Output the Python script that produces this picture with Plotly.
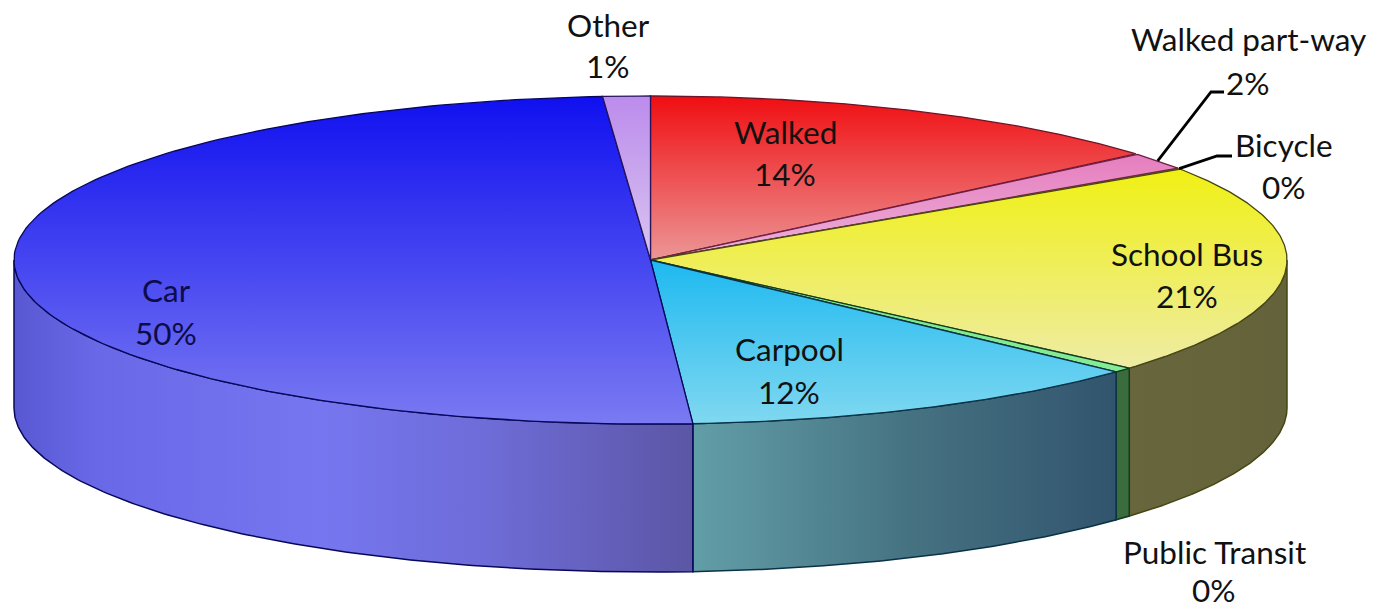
import numpy as np
import plotly.graph_objects as go

# --- data (percent of trips), clockwise from the top of the pie
categories = ["Walked", "Walked part-way", "Bicycle", "School Bus", "Public Transit", "Carpool", "Car", "Other"]
values = [13.8, 1.75, 0.1, 20.8, 0.49, 12.0, 49.86, 1.2]
pct_labels = ["14%", "2%", "0%", "21%", "0%", "12%", "50%", "1%"]

# --- styles
top_colors = [
    ["rgb(240,14,18)", "rgb(236,150,150)"],
    ["rgb(230,125,190)", "rgb(235,178,218)"],
    ["rgb(230,120,120)", "rgb(230,120,120)"],
    ["rgb(240,240,20)", "rgb(238,236,165)"],
    ["rgb(115,232,135)", "rgb(135,235,150)"],
    ["rgb(30,185,240)", "rgb(128,216,240)"],
    ["rgb(16,16,240)", "rgb(122,122,242)"],
    ["rgb(188,140,236)", "rgb(216,196,240)"],
]
wall_colors = [
    None, None, None,
    [[0, "rgb(104,102,60)"], [1, "rgb(100,98,58)"]],
    [[0, "rgb(58,108,62)"], [1, "rgb(58,108,62)"]],
    [[0, "rgb(98,158,168)"], [0.5, "rgb(70,115,130)"], [1, "rgb(50,84,110)"]],
    [[0, "rgb(88,88,210)"], [0.12, "rgb(105,105,232)"], [0.45, "rgb(118,118,240)"], [0.7, "rgb(110,108,215)"], [1, "rgb(92,86,165)"]],
    None,
]
edge_colors = ["rgb(110,20,40)", "rgb(110,30,70)", "rgb(110,60,30)", "rgb(70,70,20)",
               "rgb(15,60,30)", "rgb(10,50,70)", "rgb(8,8,90)", "rgb(40,20,90)"]

# label anchor pairs: (x, y of name), (x, y of percent)
name_pos = [(785, 132), (1248, 39), (1284, 145), (1187, 254), (1214, 552), (789, 349), (166, 290), (608, 25)]
pct_pos = [(785, 174), (1248, 83), (1284, 187), (1187, 296), (1214, 590), (789, 392), (166, 333), (608, 66)]
leader_elbows = {1: [(1211, 92), (1224, 92)], 2: [(1217, 156), (1232, 156)]}

CX, CY, A, B, DEPTH = 650.5, 260, 636.5, 164, 148
FONT = "Lato"
FONT_SIZE = 31.5


def ex(t):
    return CX + A * np.sin(t)


def ey(t):
    return CY - B * np.cos(t)


fractions = np.array(values) / np.sum(values)
edges = np.concatenate([[0], np.cumsum(fractions)]) * 2 * np.pi

fig = go.Figure()

# side wall: visible on the front half of the disc only
for i, scale in enumerate(wall_colors):
    t0, t1 = max(edges[i], np.pi / 2), min(edges[i + 1], 3 * np.pi / 2)
    if scale is None or t1 <= t0:
        continue
    t = np.linspace(t0, t1, 160)
    xs = np.concatenate([ex(t), ex(t[::-1]), [ex(t0)]])
    ys = np.concatenate([ey(t), ey(t[::-1]) + DEPTH, [ey(t0)]])
    fig.add_trace(go.Scatter(
        x=xs, y=ys, mode="lines", fill="toself", name=categories[i],
        line=dict(color=edge_colors[i], width=1.5),
        fillgradient=dict(type="horizontal", colorscale=scale, start=float(xs.min()), stop=float(xs.max())),
    ))

# top face
for i, cols in enumerate(top_colors):
    t = np.linspace(edges[i], edges[i + 1], 160)
    xs = np.concatenate([[CX], ex(t), [CX]])
    ys = np.concatenate([[CY], ey(t), [CY]])
    fig.add_trace(go.Scatter(
        x=xs, y=ys, mode="lines", fill="toself", name=categories[i],
        line=dict(color=edge_colors[i], width=1.3),
        fillgradient=dict(type="vertical", colorscale=[[0, cols[0]], [1, cols[1]]],
                          start=float(ys.min()), stop=float(ys.max())),
    ))

# leader lines from the middle of the thin slices
for i, elbow in leader_elbows.items():
    mid = (edges[i] + edges[i + 1]) / 2
    fig.add_trace(go.Scatter(
        x=[ex(mid)] + [p[0] for p in elbow], y=[ey(mid)] + [p[1] for p in elbow],
        mode="lines", line=dict(color="black", width=2.8), showlegend=False,
    ))

for i, cat in enumerate(categories):
    color = "#0c0c48" if cat == "Car" else "#111111"
    for txt, (x, y) in ((cat, name_pos[i]), (pct_labels[i], pct_pos[i])):
        fig.add_annotation(x=x, y=y, text=txt, showarrow=False, xanchor="center", yanchor="middle",
                           font=dict(family=FONT, size=FONT_SIZE, color=color))

fig.update_layout(
    width=1378, height=609, margin=dict(l=0, r=0, t=0, b=0),
    paper_bgcolor="white", plot_bgcolor="white", showlegend=False, hovermode=False,
    xaxis=dict(range=[0, 1378], visible=False, fixedrange=True),
    yaxis=dict(range=[609, 0], visible=False, fixedrange=True),
)
fig.write_html("out.html", config=dict(displayModeBar=False),
               post_script="document.body.style.margin='0';")
